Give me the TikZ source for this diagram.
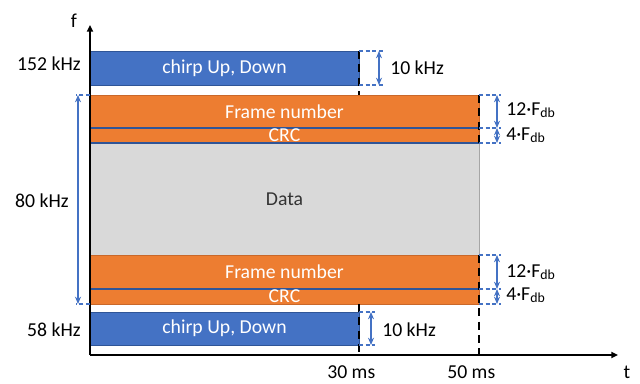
\documentclass[tikz,border=0pt]{standalone}
\usepackage{fontspec}
\setmainfont{Carlito}
\usetikzlibrary{arrows.meta,fit,calc}
\definecolor{cblue}{HTML}{4472C4}
\definecolor{cblueD}{HTML}{2F5597}
\definecolor{corange}{HTML}{ED7D31}
\definecolor{corangeD}{HTML}{C9682A}
\definecolor{cgray}{HTML}{D9D9D9}
\definecolor{cgrayD}{HTML}{A6A6A6}
\begin{document}
\begin{tikzpicture}[x=0.75pt,y=-0.75pt, font=\fontsize{14.8}{17}\selectfont,
 box/.style={inner sep=0pt, outer sep=0pt, line width=0.6pt},
 bluebox/.style={box, fill=cblue, draw=cblueD},
 orangebox/.style={box, fill=corange, draw=corangeD},
 graybox/.style={box, fill=cgray, draw=cgrayD},
 wtext/.style={text=white, inner sep=0pt},
 lbl/.style={inner sep=0pt},
 sepline/.style={cblueD, line width=1pt},
 axisline/.style={line width=1.4pt, -{Triangle[length=5pt,width=4.5pt]}},
 guide/.style={line width=2.2pt, dash pattern=on 6pt off 4pt},
 bdash/.style={cblue, line width=0.9pt, dash pattern=on 3pt off 2pt},
 barrow/.style={cblue, line width=1.1pt, {Stealth[length=5.5pt,width=4.5pt]}-{Stealth[length=5.5pt,width=4.5pt]}},
]
\useasboundingbox[fill=white] (0,0) rectangle (640,383);

% boxes
\node[bluebox, fit={(90,51)(359,85)}] (chirpT) {};
\node[orangebox, fit={(90,95)(479,128)}] (frame1) {};
\node[orangebox, fit={(90,128)(479,143)}] (crc1) {};
\node[graybox, fit={(90,143)(479,255)}] (data) {};
\node[orangebox, fit={(90,255)(479,289)}] (frame2) {};
\node[orangebox, fit={(90,289)(479,304)}] (crc2) {};
\node[bluebox, fit={(90,312)(359,345)}] (chirpB) {};

\draw[sepline] (frame1.south west) -- (frame1.south east);
\draw[sepline] (crc1.south west) -- (crc1.south east);
\draw[sepline] (frame2.south west) -- (frame2.south east);

% box texts
\node[wtext] (tchirpT) at (chirpT.center) {chirp Up, Down};
\node[wtext] (tframe1) at (frame1.center) {Frame number};
\node[wtext] (tcrc1) at (crc1.center) {CRC};
\node[lbl, text=black!80] (tdata) at (data.center) {Data};
\node[wtext] (tframe2) at (frame2.center) {Frame number};
\node[wtext] (tcrc2) at (crc2.center) {CRC};
\node[wtext] (tchirpB) at (chirpB.center) {chirp Up, Down};

% axes
\coordinate (O) at (90,355);
\coordinate (yend) at (90,25);
\coordinate (xend) at (618,355);
\coordinate (t30) at (359,355);
\coordinate (t50) at (479,355);

% time guides
\draw[guide] (chirpT.north east) -- (chirpT.north east |- frame1.north);
\draw[guide] (chirpB.east |- crc2.south) -- (t30);
\draw[guide] (frame1.north east) -- (crc1.south east);
\draw[guide] (frame2.north east) -- (t50);

\draw[axisline] (O) -- (yend);
\draw[axisline] (O) -- (xend);

% 10 kHz brackets
\coordinate (bT1) at (384,51);
\coordinate (bT2) at (384,85);
\draw[bdash] (chirpT.north east) -- (bT1);
\draw[bdash] (chirpT.south east) -- (bT2);
\coordinate (aT1) at (379,51);
\coordinate (aT2) at (379,85);
\draw[barrow] (aT1) -- (aT2);

\coordinate (bB1) at (375,312);
\coordinate (bB2) at (375,345);
\draw[bdash] (chirpB.north east) -- (bB1);
\draw[bdash] (chirpB.south east) -- (bB2);
\coordinate (aB1) at (371,312);
\coordinate (aB2) at (371,345);
\draw[barrow] (aB1) -- (aB2);

% right brackets (top)
\coordinate (r1) at (501,95);
\coordinate (r2) at (501,128);
\coordinate (r3) at (501,143);
\draw[bdash] (frame1.north east) -- (r1);
\draw[bdash] (frame1.south east) -- (r2);
\draw[bdash] (crc1.south east) -- (r3);
\coordinate (ra1) at (497,95);
\coordinate (ra2) at (497,128);
\coordinate (ra3) at (497,143);
\draw[barrow] (ra1) -- (ra2);
\draw[barrow] (ra2) -- (ra3);

% right brackets (bottom)
\coordinate (s1) at (501,255);
\coordinate (s2) at (501,289);
\coordinate (s3) at (501,304);
\draw[bdash] (frame2.north east) -- (s1);
\draw[bdash] (frame2.south east) -- (s2);
\draw[bdash] (crc2.south east) -- (s3);
\coordinate (sa1) at (497,255);
\coordinate (sa2) at (497,289);
\coordinate (sa3) at (497,304);
\draw[barrow] (sa1) -- (sa2);
\draw[barrow] (sa2) -- (sa3);

% 80 kHz bracket
\coordinate (L1) at (76,95);
\coordinate (L2) at (76,304);
\draw[bdash] (frame1.north west) -- (L1);
\draw[bdash] (crc2.south west) -- (L2);
\coordinate (La1) at (78,95);
\coordinate (La2) at (78,304);
\draw[barrow] (La1) -- (La2);

% labels
\node[lbl, anchor=base] (lf) at (74,27) {f};
\node[lbl, anchor=base] (lt) at (627,378) {t};
\node[lbl, anchor=base east] (l152) at (81,70) {152 kHz};
\node[lbl, anchor=base east] (l58) at (81,336) {58 kHz};
\node[lbl, anchor=base east] (l80) at (69,207) {80 kHz};
\node[lbl, anchor=base west] (l10a) at (390,74) {10 kHz};
\node[lbl, anchor=base west] (l10b) at (382,336) {10 kHz};
\node[lbl, anchor=base west] (l12a) at (506,115) {12·F\textsubscript{db}};
\node[lbl, anchor=base west] (l4a) at (506,140) {4·F\textsubscript{db}};
\node[lbl, anchor=base west] (l12b) at (506,277) {12·F\textsubscript{db}};
\node[lbl, anchor=base west] (l4b) at (506,300) {4·F\textsubscript{db}};
\node[lbl, anchor=base west] (l30) at (327,378) {30 ms};
\node[lbl, anchor=base west] (l50) at (447,378) {50 ms};
\end{tikzpicture}
\end{document}
